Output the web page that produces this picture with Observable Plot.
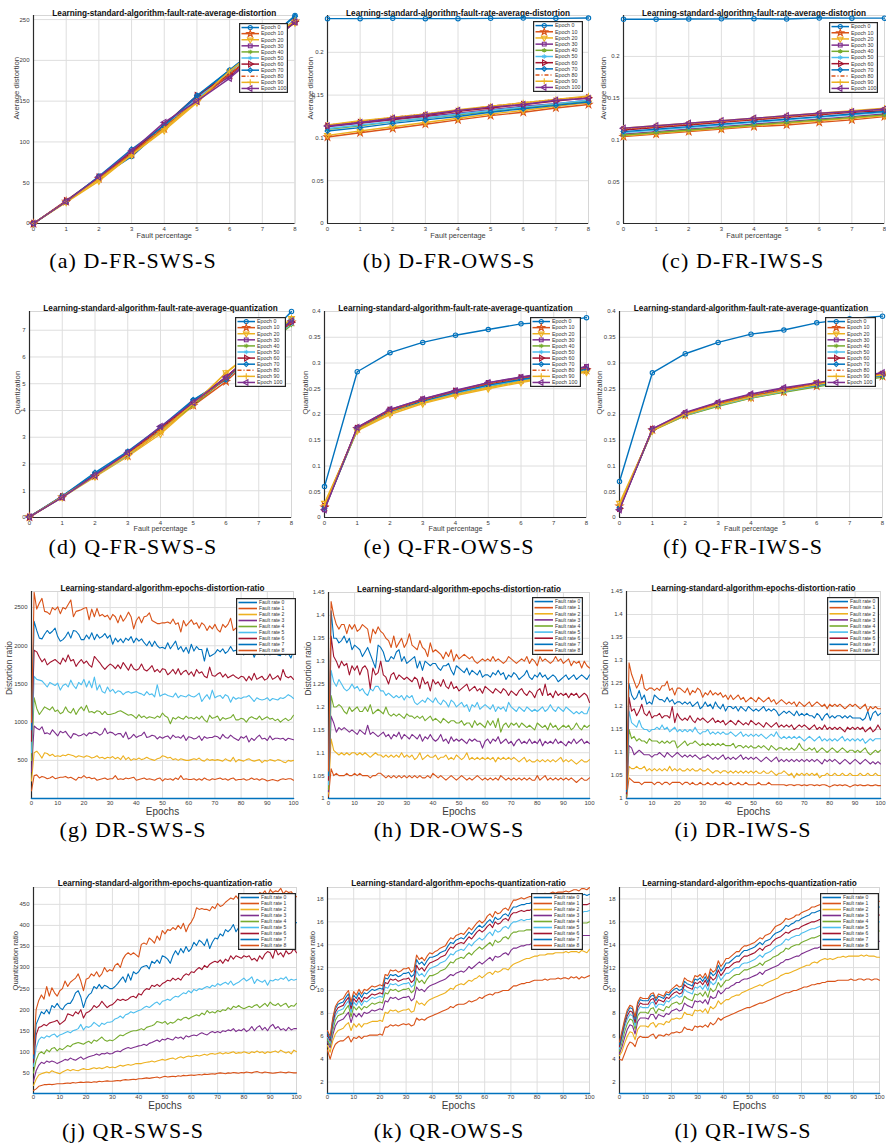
<!DOCTYPE html>
<html><head><meta charset="utf-8">
<script src="https://cdn.jsdelivr.net/npm/d3@7"></script>
<script src="https://cdn.jsdelivr.net/npm/@observablehq/plot@0.6"></script>
<style>
body{margin:0;background:#fff;}
#page{position:relative;width:886px;height:1147px;overflow:hidden;background:#fff;}
#page svg{position:absolute;display:block;}
.caption{position:absolute;width:300px;text-align:center;font-family:"Liberation Serif","Times New Roman",serif;font-size:22px;letter-spacing:1.1px;line-height:24px;color:#000;white-space:nowrap;}
</style></head><body><div id="page"></div>
<script>
// ---------- categories / labels ----------
const faultPercent = [0,1,2,3,4,5,6,7,8];
const epochs = [0,1,2,3,4,5,6,7,8,9,10,11,12,13,14,15,16,17,18,19,20,21,22,23,24,25,26,27,28,29,30,31,32,33,34,35,36,37,38,39,40,41,42,43,44,45,46,47,48,49,50,51,52,53,54,55,56,57,58,59,60,61,62,63,64,65,66,67,68,69,70,71,72,73,74,75,76,77,78,79,80,81,82,83,84,85,86,87,88,89,90,91,92,93,94,95,96,97,98,99,100];
const epochNames = ["Epoch 0","Epoch 10","Epoch 20","Epoch 30","Epoch 40","Epoch 50","Epoch 60","Epoch 70","Epoch 80","Epoch 90","Epoch 100"];
const faultNames = ["Fault rate 0","Fault rate 1","Fault rate 2","Fault rate 3","Fault rate 4","Fault rate 5","Fault rate 6","Fault rate 7","Fault rate 8"];
const xTicksFR = [0,1,2,3,4,5,6,7,8];
const xTicksEp = [0,10,20,30,40,50,60,70,80,90,100];

// ---------- (a) D-FR-SWS-S ----------
const dSWS_e0 = [0,27,56,82,118,155,188,220,255];
const dSWS_e10 = [0,27,55,85,116,150,182,215,248];
const dSWS_e20 = [0,26,52,84,114,148,186,218,246];
const dSWS_e30 = [0,27,57,88,121,155,180,214,247];
const dSWS_e40 = [0,27,56,86,119,152,186,218,247];
const dSWS_e50 = [0,27,57,87,120,153,186,219,250];
const dSWS_e60 = [0,28,57,87,121,157,183,215,248];
const dSWS_e70 = [0,27,58,91,120,157,188,220,254];
const dSWS_e80 = [0,27,55,86,118,151,183,216,249];
const dSWS_e90 = [0,27,54,84,116,150,187,219,249];
const dSWS_e100 = [0,27,57,89,124,150,178,212,247];
// ---------- (b) D-FR-OWS-S ----------
const dOWS_e0 = [0.2393,0.2393,0.2397,0.2393,0.2393,0.2397,0.2400,0.2397,0.2400];
const dOWS_e10 = [0.101,0.106,0.111,0.116,0.121,0.126,0.130,0.135,0.139];
const dOWS_e20 = [0.103,0.108,0.113,0.118,0.123,0.128,0.132,0.137,0.141];
const dOWS_e30 = [0.113,0.117,0.121,0.125,0.129,0.133,0.137,0.140,0.144];
const dOWS_e40 = [0.110,0.114,0.119,0.123,0.127,0.131,0.135,0.139,0.143];
const dOWS_e50 = [0.111,0.115,0.119,0.123,0.128,0.132,0.136,0.140,0.144];
const dOWS_e60 = [0.114,0.118,0.122,0.126,0.131,0.135,0.139,0.143,0.147];
const dOWS_e70 = [0.108,0.112,0.117,0.121,0.125,0.130,0.134,0.138,0.142];
const dOWS_e80 = [0.115,0.119,0.124,0.128,0.132,0.137,0.141,0.145,0.148];
const dOWS_e90 = [0.115,0.120,0.124,0.128,0.133,0.137,0.141,0.145,0.149];
const dOWS_e100 = [0.114,0.118,0.123,0.127,0.132,0.136,0.139,0.144,0.146];
// ---------- (c) D-FR-IWS-S ----------
const dIWS_e0 = [0.2445,0.2445,0.2448,0.2450,0.2452,0.2448,0.2460,0.2458,0.2458];
const dIWS_e10 = [0.104,0.107,0.110,0.113,0.116,0.118,0.121,0.124,0.128];
const dIWS_e20 = [0.105,0.108,0.111,0.114,0.117,0.120,0.123,0.126,0.129];
const dIWS_e30 = [0.107,0.110,0.113,0.116,0.119,0.122,0.125,0.128,0.131];
const dIWS_e40 = [0.106,0.109,0.112,0.115,0.118,0.121,0.124,0.127,0.130];
const dIWS_e50 = [0.109,0.112,0.115,0.118,0.121,0.124,0.127,0.130,0.133];
const dIWS_e60 = [0.112,0.115,0.118,0.121,0.124,0.127,0.130,0.133,0.135];
const dIWS_e70 = [0.110,0.113,0.116,0.119,0.122,0.125,0.128,0.131,0.134];
const dIWS_e80 = [0.113,0.116,0.119,0.122,0.125,0.128,0.131,0.134,0.137];
const dIWS_e90 = [0.114,0.117,0.120,0.123,0.126,0.129,0.132,0.135,0.138];
const dIWS_e100 = [0.114,0.117,0.120,0.123,0.126,0.129,0.132,0.134,0.137];
// ---------- (d) Q-FR-SWS-S ----------
const qSWS_e0 = [0.03,0.80,1.62,2.42,3.28,4.38,5.18,6.45,7.70];
const qSWS_e10 = [0.02,0.76,1.55,2.30,3.22,4.18,5.08,6.20,7.30];
const qSWS_e20 = [0.02,0.75,1.52,2.28,3.12,4.20,5.42,6.40,7.45];
const qSWS_e30 = [0.02,0.77,1.58,2.45,3.36,4.28,5.25,6.30,7.35];
const qSWS_e40 = [0.02,0.78,1.56,2.34,3.25,4.20,5.20,6.20,7.20];
const qSWS_e50 = [0.02,0.76,1.55,2.32,3.28,4.26,5.22,6.25,7.25];
const qSWS_e60 = [0.02,0.78,1.58,2.38,3.32,4.30,5.25,6.30,7.30];
const qSWS_e70 = [0.03,0.80,1.68,2.47,3.38,4.40,5.15,6.35,7.40];
const qSWS_e80 = [0.02,0.78,1.56,2.36,3.30,4.25,5.20,6.25,7.30];
const qSWS_e90 = [0.02,0.78,1.55,2.35,3.20,4.25,5.40,6.35,7.45];
const qSWS_e100 = [0.02,0.75,1.58,2.42,3.40,4.30,5.25,6.30,7.35];
// ---------- (e) Q-FR-OWS-S ----------
const qOWS_e0 = [0.060,0.283,0.320,0.340,0.354,0.365,0.376,0.380,0.388];
const qOWS_e10 = [0.020,0.172,0.205,0.226,0.242,0.256,0.268,0.278,0.286];
const qOWS_e20 = [0.028,0.168,0.200,0.221,0.237,0.250,0.262,0.273,0.282];
const qOWS_e30 = [0.015,0.175,0.210,0.230,0.247,0.262,0.273,0.283,0.293];
const qOWS_e40 = [0.018,0.170,0.204,0.224,0.240,0.254,0.266,0.276,0.285];
const qOWS_e50 = [0.020,0.171,0.205,0.225,0.241,0.255,0.267,0.277,0.286];
const qOWS_e60 = [0.022,0.173,0.208,0.228,0.245,0.259,0.271,0.280,0.289];
const qOWS_e70 = [0.018,0.172,0.206,0.226,0.243,0.257,0.268,0.278,0.288];
const qOWS_e80 = [0.020,0.173,0.207,0.228,0.245,0.260,0.271,0.281,0.290];
const qOWS_e90 = [0.025,0.170,0.203,0.223,0.239,0.252,0.264,0.274,0.284];
const qOWS_e100 = [0.015,0.175,0.210,0.230,0.246,0.262,0.272,0.282,0.292];
// ---------- (f) Q-FR-IWS-S ----------
const qIWS_e0 = [0.070,0.281,0.318,0.340,0.356,0.364,0.378,0.386,0.391];
const qIWS_e10 = [0.022,0.170,0.199,0.218,0.233,0.244,0.255,0.265,0.274];
const qIWS_e20 = [0.028,0.168,0.198,0.217,0.232,0.244,0.262,0.270,0.279];
const qIWS_e30 = [0.016,0.172,0.203,0.223,0.239,0.251,0.260,0.270,0.279];
const qIWS_e40 = [0.020,0.169,0.198,0.216,0.232,0.243,0.254,0.264,0.272];
const qIWS_e50 = [0.020,0.170,0.199,0.218,0.233,0.245,0.256,0.266,0.275];
const qIWS_e60 = [0.018,0.171,0.201,0.221,0.236,0.248,0.259,0.269,0.278];
const qIWS_e70 = [0.019,0.170,0.200,0.220,0.235,0.247,0.257,0.267,0.276];
const qIWS_e80 = [0.020,0.171,0.202,0.221,0.237,0.249,0.260,0.270,0.279];
const qIWS_e90 = [0.024,0.169,0.200,0.219,0.234,0.246,0.258,0.268,0.277];
const qIWS_e100 = [0.015,0.172,0.204,0.224,0.240,0.252,0.262,0.272,0.281];

// ---------- fault rate 0 (ratio 1 in every epoch chart) ----------
const faultRate0 = [1,1,1,1,1,1,1,1,1,1,1,1,1,1,1,1,1,1,1,1,1,1,1,1,1,1,1,1,1,1,1,1,1,1,1,1,1,1,1,1,1,1,1,1,1,1,1,1,1,1,1,1,1,1,1,1,1,1,1,1,1,1,1,1,1,1,1,1,1,1,1,1,1,1,1,1,1,1,1,1,1,1,1,1,1,1,1,1,1,1,1,1,1,1,1,1,1,1,1,1,1];

// ---------- (g) DR-SWS-S ----------
const drSWS_f1 = [100,300,310,270,290,280,260,270,290,260,270,280,280,290,270,280,260,240,280,270,300,270,280,260,270,240,250,260,270,250,260,260,300,250,260,250,270,260,270,280,240,250,260,270,250,260,250,240,260,270,230,260,250,260,240,270,250,300,250,260,250,250,260,240,260,240,270,250,240,260,250,260,270,250,260,240,260,270,240,250,250,260,240,250,270,250,260,240,260,250,230,240,250,240,230,250,260,250,260,260,240];
const drSWS_f2 = [230,600,620,580,530,600,590,560,580,550,560,550,570,560,580,570,560,540,560,550,540,560,550,530,540,560,530,540,520,540,530,550,520,540,510,560,510,540,500,520,510,530,510,520,540,520,510,500,520,530,560,550,530,540,510,520,500,520,510,500,500,510,520,510,530,500,490,520,500,510,500,510,500,490,520,500,490,540,480,510,500,490,510,520,500,490,500,510,470,500,490,510,500,490,510,500,480,470,500,490,500];
const drSWS_f3 = [350,950,920,900,940,850,860,840,900,860,820,880,860,880,830,790,850,840,820,830,850,820,860,850,870,860,830,850,920,850,870,860,830,850,850,800,870,780,800,840,800,820,830,870,800,810,830,820,780,810,790,810,820,780,830,800,810,790,830,760,810,800,780,790,820,760,810,790,800,800,820,810,780,840,800,790,830,800,780,760,810,790,820,740,790,760,800,830,780,790,760,820,770,790,790,780,790,760,790,780,770];
const drSWS_f4 = [500,1320,1180,1100,1150,1200,1180,1160,1200,1140,1160,1110,1130,1200,1140,1120,1180,1100,1160,1200,1150,1220,1130,1140,1120,1150,1140,1100,1140,1100,1100,1110,1120,1140,1150,1130,1110,1090,1100,1080,1050,1100,1060,1080,1050,1070,1060,1050,1080,1060,1120,1080,1060,980,1060,1040,1070,1050,1040,1080,1050,1060,1040,1070,1040,1080,1030,1000,1090,1050,1060,1080,1020,1060,1040,1050,1060,1100,1030,1030,1050,1040,1000,1050,1070,1050,1040,1080,1030,1050,1070,1040,1050,1020,1040,1000,1030,1050,1020,1040,1090];
const drSWS_f5 = [600,1600,1560,1550,1540,1500,1460,1520,1500,1480,1510,1420,1480,1500,1460,1550,1480,1440,1520,1490,1560,1460,1540,1450,1590,1420,1490,1400,1380,1460,1400,1430,1380,1410,1400,1360,1390,1400,1380,1390,1400,1380,1370,1350,1400,1360,1370,1330,1490,1340,1360,1370,1350,1340,1330,1380,1320,1350,1340,1330,1360,1340,1330,1350,1380,1270,1320,1360,1300,1420,1320,1340,1350,1310,1360,1340,1260,1330,1300,1320,1310,1330,1330,1350,1310,1270,1320,1300,1290,1300,1320,1280,1310,1300,1290,1320,1310,1330,1360,1340,1310];
const drSWS_f6 = [750,1940,1920,1850,1790,1830,1750,1780,1800,1820,1790,1760,1840,1790,1880,1800,1820,1730,1780,1820,1770,1800,1750,1720,1860,1820,1780,1730,1690,1730,1760,1740,1700,1750,1700,1780,1730,1680,1760,1700,1680,1700,1760,1690,1670,1700,1740,1660,1690,1650,1700,1690,1620,1650,1690,1630,1700,1620,1660,1680,1620,1660,1600,1690,1640,1660,1600,1580,1720,1610,1600,1630,1650,1590,1630,1580,1600,1620,1590,1570,1600,1590,1540,1600,1550,1640,1560,1580,1600,1550,1570,1630,1560,1580,1610,1550,1690,1600,1580,1600,1560];
const drSWS_f7 = [900,2320,2200,2100,2090,2150,2200,2160,2190,2230,2120,2060,2080,2120,2180,2100,2200,2190,2150,2080,2080,2140,2090,2170,2080,2150,2100,2120,2160,2100,2140,2020,2100,2050,2090,2040,2100,2070,2120,2040,2100,2060,2090,2040,2000,2060,1990,2060,2000,1970,1980,1960,2040,1960,2010,2060,1950,1990,1920,1980,1900,2020,1930,1990,1950,1950,1800,1970,1860,1880,1900,1950,1920,1960,1900,1930,1990,1930,1940,1900,1960,1880,1950,1900,1940,1850,1930,1910,1900,1880,1930,1880,1920,1910,1880,1870,1940,1880,1900,1840,1930];
const drSWS_f8 = [1000,2700,2480,2560,2620,2450,2440,2410,2500,2470,2510,2420,2500,2480,2540,2600,2380,2450,2460,2470,2490,2500,2340,2480,2380,2490,2390,2410,2380,2400,2340,2410,2380,2300,2400,2320,2370,2440,2380,2220,2330,2380,2300,2380,2390,2430,2330,2310,2290,2290,2300,2300,2310,2290,2350,2280,2300,2180,2330,2260,2300,2340,2280,2300,2230,2300,2270,2200,2260,2220,2280,2210,2180,2280,2240,2280,2360,2200,2230,2180,2270,2180,2250,2190,2180,2230,2200,2170,2280,2190,2190,2200,2210,2200,2260,2200,2210,2180,2200,2170,2160];

// ---------- (h) DR-OWS-S ----------
const drOWS_f1 = [1.005,1.065,1.05,1.055,1.05,1.05,1.05,1.055,1.05,1.05,1.055,1.05,1.055,1.05,1.05,1.05,1.045,1.05,1.05,1.055,1.055,1.05,1.045,1.05,1.045,1.05,1.045,1.05,1.045,1.05,1.045,1.05,1.045,1.05,1.045,1.05,1.045,1.045,1.05,1.045,1.055,1.05,1.045,1.05,1.045,1.04,1.045,1.05,1.045,1.04,1.045,1.05,1.045,1.04,1.045,1.04,1.045,1.05,1.045,1.04,1.045,1.04,1.045,1.04,1.045,1.04,1.05,1.045,1.04,1.045,1.04,1.045,1.04,1.045,1.04,1.045,1.04,1.045,1.04,1.04,1.05,1.04,1.045,1.05,1.04,1.045,1.04,1.045,1.04,1.045,1.04,1.045,1.04,1.045,1.04,1.035,1.04,1.045,1.04,1.04,1.045];
const drOWS_f2 = [1.01,1.13,1.105,1.10,1.095,1.10,1.095,1.10,1.095,1.1,1.1,1.095,1.1,1.095,1.1,1.095,1.09,1.095,1.1,1.095,1.095,1.09,1.095,1.09,1.095,1.09,1.095,1.09,1.1,1.09,1.095,1.09,1.095,1.085,1.09,1.1,1.085,1.09,1.095,1.09,1.09,1.095,1.085,1.09,1.09,1.095,1.085,1.09,1.085,1.095,1.09,1.085,1.09,1.1,1.085,1.09,1.085,1.09,1.085,1.09,1.085,1.09,1.085,1.09,1.08,1.09,1.085,1.09,1.085,1.09,1.085,1.09,1.085,1.08,1.085,1.09,1.08,1.085,1.08,1.08,1.085,1.08,1.085,1.08,1.085,1.08,1.085,1.08,1.085,1.09,1.08,1.085,1.08,1.085,1.08,1.075,1.08,1.085,1.08,1.08,1.085];
const drOWS_f3 = [1.015,1.18,1.165,1.145,1.155,1.15,1.155,1.15,1.145,1.15,1.145,1.14,1.15,1.145,1.14,1.16,1.14,1.145,1.14,1.135,1.14,1.145,1.135,1.14,1.13,1.14,1.135,1.145,1.13,1.14,1.135,1.13,1.14,1.135,1.13,1.14,1.125,1.135,1.13,1.14,1.13,1.125,1.13,1.14,1.125,1.13,1.12,1.135,1.125,1.13,1.125,1.13,1.125,1.12,1.13,1.125,1.13,1.125,1.125,1.11,1.125,1.13,1.12,1.13,1.125,1.135,1.12,1.125,1.13,1.12,1.125,1.115,1.125,1.13,1.12,1.125,1.12,1.13,1.12,1.125,1.12,1.13,1.115,1.125,1.12,1.125,1.12,1.13,1.12,1.125,1.12,1.115,1.125,1.12,1.13,1.12,1.125,1.13,1.12,1.125,1.12];
const drOWS_f4 = [1.02,1.225,1.20,1.20,1.205,1.20,1.19,1.185,1.20,1.19,1.195,1.20,1.19,1.19,1.20,1.19,1.205,1.185,1.19,1.195,1.19,1.185,1.2,1.185,1.18,1.185,1.18,1.185,1.18,1.175,1.185,1.18,1.18,1.175,1.18,1.175,1.18,1.17,1.175,1.18,1.17,1.175,1.17,1.165,1.175,1.17,1.165,1.17,1.17,1.165,1.165,1.17,1.16,1.165,1.165,1.155,1.17,1.16,1.165,1.16,1.155,1.17,1.16,1.17,1.155,1.175,1.145,1.16,1.165,1.155,1.165,1.16,1.165,1.155,1.165,1.16,1.155,1.16,1.155,1.15,1.165,1.16,1.155,1.16,1.15,1.165,1.155,1.16,1.15,1.155,1.16,1.155,1.16,1.15,1.155,1.165,1.155,1.15,1.16,1.155,1.16];
const drOWS_f5 = [1.03,1.28,1.255,1.245,1.26,1.25,1.24,1.235,1.24,1.25,1.24,1.245,1.235,1.24,1.23,1.225,1.24,1.235,1.245,1.245,1.235,1.235,1.225,1.23,1.225,1.22,1.225,1.22,1.225,1.215,1.225,1.22,1.225,1.21,1.205,1.21,1.215,1.21,1.22,1.215,1.21,1.22,1.21,1.205,1.215,1.21,1.2,1.215,1.21,1.2,1.205,1.21,1.2,1.205,1.19,1.205,1.2,1.21,1.195,1.2,1.205,1.2,1.195,1.205,1.19,1.2,1.195,1.2,1.19,1.21,1.2,1.195,1.19,1.2,1.195,1.19,1.2,1.195,1.19,1.195,1.19,1.195,1.2,1.19,1.195,1.205,1.195,1.19,1.2,1.195,1.19,1.2,1.195,1.19,1.185,1.19,1.185,1.19,1.185,1.185,1.2];
const drOWS_f6 = [1.04,1.355,1.31,1.30,1.285,1.30,1.29,1.295,1.27,1.29,1.28,1.29,1.27,1.285,1.29,1.28,1.24,1.285,1.27,1.275,1.30,1.27,1.265,1.25,1.27,1.275,1.26,1.27,1.265,1.26,1.265,1.26,1.255,1.265,1.26,1.24,1.265,1.25,1.255,1.235,1.26,1.25,1.255,1.245,1.26,1.245,1.24,1.255,1.24,1.245,1.235,1.24,1.245,1.25,1.235,1.24,1.245,1.235,1.24,1.23,1.245,1.24,1.235,1.23,1.24,1.235,1.23,1.24,1.235,1.225,1.235,1.23,1.225,1.235,1.24,1.23,1.225,1.235,1.23,1.22,1.235,1.24,1.225,1.25,1.225,1.23,1.22,1.235,1.225,1.23,1.225,1.23,1.22,1.23,1.225,1.23,1.22,1.225,1.23,1.225,1.21];
const drOWS_f7 = [1.05,1.41,1.35,1.35,1.34,1.345,1.355,1.34,1.35,1.325,1.335,1.33,1.325,1.31,1.32,1.33,1.315,1.30,1.285,1.335,1.33,1.32,1.30,1.30,1.31,1.305,1.32,1.325,1.30,1.31,1.295,1.30,1.305,1.31,1.285,1.30,1.28,1.30,1.295,1.29,1.295,1.295,1.285,1.28,1.29,1.29,1.295,1.28,1.27,1.29,1.285,1.28,1.275,1.285,1.27,1.28,1.275,1.27,1.28,1.265,1.27,1.27,1.265,1.275,1.27,1.28,1.27,1.275,1.26,1.27,1.265,1.275,1.27,1.26,1.265,1.27,1.28,1.265,1.26,1.27,1.265,1.275,1.265,1.27,1.26,1.265,1.27,1.265,1.255,1.26,1.265,1.27,1.26,1.265,1.27,1.26,1.265,1.27,1.265,1.26,1.27];
const drOWS_f8 = [1.06,1.43,1.40,1.38,1.37,1.38,1.38,1.36,1.38,1.37,1.38,1.365,1.37,1.38,1.375,1.37,1.34,1.37,1.36,1.375,1.365,1.36,1.35,1.345,1.33,1.355,1.33,1.34,1.35,1.33,1.34,1.36,1.335,1.33,1.325,1.345,1.33,1.325,1.31,1.34,1.32,1.325,1.32,1.315,1.305,1.32,1.31,1.325,1.30,1.315,1.305,1.31,1.315,1.31,1.305,1.31,1.30,1.295,1.30,1.305,1.30,1.305,1.30,1.31,1.30,1.305,1.30,1.295,1.30,1.31,1.305,1.30,1.295,1.30,1.305,1.30,1.31,1.295,1.305,1.30,1.29,1.31,1.30,1.305,1.30,1.295,1.30,1.31,1.30,1.305,1.295,1.30,1.305,1.29,1.30,1.295,1.30,1.285,1.30,1.29,1.285];

// ---------- (i) DR-IWS-S ----------
const drIWS_f1 = [1.001,1.045,1.04,1.035,1.035,1.035,1.03,1.035,1.035,1.035,1.035,1.03,1.035,1.035,1.03,1.035,1.035,1.03,1.035,1.035,1.035,1.035,1.03,1.035,1.035,1.03,1.035,1.03,1.03,1.035,1.03,1.03,1.035,1.03,1.03,1.035,1.03,1.03,1.035,1.03,1.03,1.035,1.03,1.03,1.035,1.03,1.03,1.035,1.03,1.03,1.03,1.03,1.035,1.03,1.03,1.03,1.035,1.03,1.03,1.03,1.03,1.03,1.03,1.028,1.03,1.03,1.028,1.03,1.03,1.028,1.03,1.028,1.03,1.03,1.028,1.03,1.028,1.03,1.03,1.028,1.025,1.028,1.03,1.028,1.03,1.028,1.03,1.028,1.025,1.028,1.03,1.028,1.03,1.028,1.028,1.03,1.028,1.028,1.03,1.028,1.028];
const drIWS_f2 = [1.002,1.07,1.065,1.065,1.07,1.065,1.065,1.07,1.06,1.065,1.06,1.065,1.06,1.065,1.06,1.065,1.06,1.07,1.06,1.065,1.06,1.065,1.06,1.06,1.065,1.06,1.065,1.06,1.06,1.065,1.06,1.06,1.065,1.06,1.055,1.06,1.06,1.055,1.06,1.06,1.055,1.06,1.055,1.06,1.055,1.06,1.055,1.06,1.055,1.06,1.055,1.06,1.055,1.055,1.06,1.055,1.055,1.06,1.055,1.05,1.055,1.055,1.06,1.055,1.05,1.055,1.045,1.055,1.05,1.055,1.05,1.055,1.05,1.055,1.05,1.055,1.045,1.05,1.05,1.055,1.05,1.05,1.055,1.05,1.05,1.055,1.05,1.05,1.055,1.05,1.05,1.05,1.055,1.05,1.05,1.055,1.05,1.05,1.055,1.05,1.05];
const drIWS_f3 = [1.003,1.115,1.11,1.095,1.1,1.105,1.1,1.095,1.095,1.095,1.09,1.095,1.095,1.1,1.095,1.09,1.1,1.095,1.09,1.095,1.1,1.095,1.09,1.095,1.09,1.095,1.09,1.095,1.09,1.085,1.09,1.09,1.095,1.09,1.085,1.09,1.085,1.09,1.095,1.085,1.09,1.085,1.09,1.085,1.09,1.095,1.085,1.09,1.085,1.09,1.085,1.09,1.085,1.08,1.085,1.09,1.085,1.08,1.085,1.09,1.08,1.085,1.08,1.085,1.08,1.085,1.08,1.085,1.08,1.085,1.08,1.085,1.08,1.085,1.08,1.085,1.08,1.075,1.085,1.08,1.085,1.08,1.085,1.08,1.075,1.08,1.085,1.08,1.075,1.08,1.085,1.08,1.075,1.08,1.085,1.08,1.075,1.08,1.075,1.08,1.075];
const drIWS_f4 = [1.005,1.15,1.13,1.135,1.125,1.13,1.125,1.125,1.12,1.13,1.125,1.125,1.125,1.12,1.125,1.12,1.125,1.12,1.125,1.125,1.11,1.115,1.12,1.125,1.115,1.12,1.12,1.125,1.12,1.115,1.12,1.115,1.12,1.115,1.12,1.115,1.12,1.115,1.12,1.115,1.115,1.115,1.12,1.11,1.115,1.115,1.11,1.115,1.11,1.115,1.11,1.11,1.115,1.11,1.115,1.11,1.105,1.115,1.11,1.105,1.11,1.11,1.105,1.11,1.105,1.11,1.105,1.11,1.12,1.11,1.105,1.105,1.11,1.105,1.11,1.1,1.105,1.11,1.105,1.1,1.105,1.11,1.105,1.1,1.105,1.11,1.105,1.1,1.105,1.105,1.1,1.105,1.1,1.105,1.11,1.1,1.095,1.1,1.105,1.1,1.105];
const drIWS_f5 = [1.01,1.19,1.165,1.16,1.155,1.17,1.155,1.15,1.15,1.145,1.15,1.15,1.155,1.15,1.16,1.15,1.155,1.145,1.15,1.155,1.145,1.15,1.145,1.15,1.145,1.15,1.145,1.155,1.145,1.14,1.145,1.145,1.15,1.14,1.145,1.14,1.145,1.14,1.145,1.14,1.14,1.145,1.14,1.135,1.14,1.145,1.135,1.14,1.135,1.14,1.135,1.14,1.135,1.14,1.135,1.13,1.135,1.14,1.135,1.145,1.135,1.13,1.135,1.13,1.135,1.13,1.135,1.13,1.135,1.13,1.125,1.13,1.135,1.13,1.125,1.13,1.135,1.125,1.13,1.125,1.13,1.125,1.13,1.125,1.13,1.135,1.125,1.13,1.125,1.13,1.125,1.13,1.125,1.13,1.12,1.125,1.13,1.125,1.13,1.13,1.13];
const drIWS_f6 = [1.01,1.22,1.19,1.195,1.18,1.19,1.205,1.185,1.18,1.19,1.175,1.18,1.18,1.185,1.175,1.18,1.18,1.175,1.2,1.165,1.185,1.175,1.17,1.175,1.17,1.18,1.17,1.165,1.175,1.17,1.175,1.17,1.165,1.17,1.175,1.165,1.17,1.165,1.17,1.16,1.165,1.17,1.165,1.16,1.17,1.165,1.16,1.165,1.16,1.17,1.165,1.16,1.165,1.16,1.155,1.165,1.16,1.155,1.16,1.165,1.155,1.16,1.155,1.16,1.155,1.16,1.15,1.155,1.16,1.155,1.16,1.155,1.15,1.155,1.16,1.15,1.155,1.15,1.16,1.15,1.155,1.15,1.155,1.15,1.155,1.15,1.145,1.155,1.15,1.155,1.15,1.155,1.15,1.155,1.145,1.15,1.155,1.145,1.15,1.16,1.15];
const drIWS_f7 = [1.015,1.25,1.225,1.215,1.22,1.235,1.215,1.225,1.205,1.21,1.205,1.225,1.22,1.215,1.215,1.21,1.22,1.21,1.215,1.205,1.21,1.21,1.205,1.21,1.205,1.21,1.2,1.205,1.21,1.195,1.2,1.21,1.2,1.205,1.195,1.21,1.2,1.195,1.205,1.19,1.2,1.2,1.195,1.2,1.19,1.2,1.195,1.19,1.2,1.195,1.19,1.195,1.19,1.195,1.2,1.19,1.195,1.19,1.195,1.19,1.18,1.185,1.19,1.185,1.19,1.185,1.18,1.19,1.18,1.185,1.18,1.185,1.18,1.18,1.175,1.185,1.18,1.17,1.18,1.185,1.175,1.18,1.175,1.18,1.18,1.175,1.18,1.175,1.18,1.175,1.175,1.175,1.175,1.17,1.175,1.19,1.17,1.185,1.19,1.18,1.185];
const drIWS_f8 = [1.02,1.295,1.27,1.255,1.24,1.25,1.27,1.24,1.235,1.24,1.24,1.235,1.24,1.235,1.245,1.245,1.255,1.235,1.24,1.225,1.24,1.24,1.235,1.23,1.24,1.225,1.235,1.23,1.24,1.235,1.22,1.23,1.225,1.235,1.225,1.23,1.225,1.23,1.22,1.225,1.215,1.225,1.215,1.22,1.225,1.215,1.22,1.21,1.215,1.22,1.215,1.21,1.22,1.215,1.21,1.215,1.22,1.21,1.215,1.205,1.21,1.215,1.21,1.205,1.21,1.205,1.21,1.2,1.21,1.205,1.2,1.205,1.21,1.2,1.205,1.21,1.205,1.2,1.205,1.195,1.205,1.2,1.205,1.2,1.205,1.2,1.195,1.2,1.205,1.2,1.205,1.2,1.195,1.2,1.205,1.19,1.2,1.195,1.2,1.195,1.195];

// ---------- (j) QR-SWS-S ----------
const qrSWS_f1 = [8,12,18,20,22,22,23,22,23,24,24,24,25,26,25,27,26,27,28,27,28,28,27,29,28,30,29,30,31,30,30,31,32,31,33,34,33,34,35,34,36,36,37,38,37,38,39,40,38,40,42,40,41,42,41,43,42,44,43,44,45,44,45,46,45,47,46,47,48,47,49,50,49,48,50,49,51,50,49,51,50,52,51,50,52,53,51,50,52,51,50,49,50,51,52,51,50,52,51,50,50];
const qrSWS_f2 = [20,35,45,48,50,52,50,55,52,50,48,52,55,58,55,58,56,55,58,60,58,58,60,62,60,62,60,62,65,62,64,62,65,68,66,68,70,68,70,72,72,72,74,75,76,78,76,78,80,82,80,82,84,85,82,86,88,85,88,90,88,90,92,90,92,94,92,95,96,94,96,98,95,98,96,98,100,96,98,97,100,98,96,100,98,102,98,100,96,100,98,100,102,98,104,100,97,100,95,104,100];
const qrSWS_f3 = [30,55,68,75,72,78,75,78,76,72,75,78,82,80,85,82,80,84,88,82,85,88,90,92,95,92,96,95,98,95,96,100,102,100,105,108,110,108,110,112,114,115,118,115,120,122,125,128,124,130,128,132,130,128,135,132,135,130,138,135,138,140,138,142,145,142,140,145,148,145,148,145,150,148,152,150,155,148,152,150,155,148,152,160,150,158,162,152,158,150,160,165,155,160,152,155,150,158,152,155,155];
const qrSWS_f4 = [50,80,95,100,95,105,100,108,110,102,108,105,110,115,112,118,120,122,120,118,122,125,120,128,125,130,135,128,125,128,126,130,135,140,138,142,145,148,150,150,152,155,152,158,160,162,165,172,170,168,172,165,170,168,172,178,175,180,182,178,182,185,188,185,192,188,198,192,195,192,198,195,200,198,205,200,208,205,210,205,202,205,208,205,210,212,205,210,215,208,218,212,210,215,208,212,215,205,210,208,215];
const qrSWS_f5 = [65,110,128,135,132,138,135,140,142,135,140,142,145,148,145,150,152,155,165,152,160,158,162,170,165,160,168,165,170,170,172,178,180,185,180,188,190,195,192,195,198,200,205,208,205,210,215,218,212,220,222,225,222,228,232,230,235,240,238,245,240,248,245,250,248,252,255,252,258,255,262,258,262,265,260,268,258,262,265,270,275,268,272,278,262,272,268,265,270,258,270,268,272,270,275,272,278,268,272,270,272];
const qrSWS_f6 = [75,140,158,160,165,162,168,170,172,175,165,170,175,190,188,185,195,190,200,180,192,195,200,210,205,210,220,212,205,210,212,218,225,222,225,222,225,230,232,228,238,235,245,250,248,258,255,260,255,262,265,270,268,275,270,275,270,280,285,282,290,288,295,300,295,305,300,308,312,315,312,318,310,320,315,328,320,328,325,322,328,325,328,318,322,315,328,320,332,338,335,322,345,330,335,325,340,332,335,345,335];
const qrSWS_f7 = [85,165,180,195,190,200,190,210,205,215,205,200,210,215,215,225,240,245,230,205,225,235,240,255,250,260,250,258,255,250,250,255,262,270,278,265,285,270,290,285,290,300,303,305,297,315,310,318,310,328,325,320,310,328,340,330,345,335,350,338,345,360,352,365,360,352,368,345,360,370,368,380,375,390,385,392,402,385,395,392,380,388,392,385,395,390,385,398,392,388,395,390,398,392,395,400,398,395,402,400,407];
const qrSWS_f8 = [95,200,222,235,225,255,232,252,240,232,245,250,268,255,265,270,275,285,268,245,272,275,285,280,290,278,285,300,290,295,292,305,310,300,320,330,335,330,335,330,325,355,358,355,370,365,358,375,365,388,380,390,388,395,390,400,392,405,385,400,408,420,442,438,440,438,438,435,445,440,452,445,448,455,460,465,462,470,462,470,468,470,472,468,475,470,478,475,482,470,485,478,482,480,488,475,482,478,480,472,468];

// ---------- (k) QR-OWS-S ----------
const qrOWS_f1 = [4.8,4.0,4.8,5.3,5.5,5.6,5.6,5.8,6.0,5.5,5.9,5.8,6.0,5.8,6.0,6.0,6.1,6.1,6.1,6.1,6.2,6.1,6.8,6.8,7.0,6.9,7.0,6.9,7.0,7.1,7.0,7.1,6.9,7.0,7.6,7.4,7.5,7.4,7.6,7.7,7.8,7.9,8.0,8.1,8.2,8.3,8.4,8.6,8.5,8.7,8.8,8.8,8.8,8.9,9.1,9.0,9.1,9.2,9.4,9.3,9.5,9.6,9.7,9.6,9.8,9.8,9.9,10.0,10.0,10.0,10.2,10.4,10.4,10.5,10.6,10.6,10.7,10.7,10.8,10.9,10.9,10.9,10.9,11.0,10.9,11.0,11.0,11.0,11.1,11.0,11.1,11.1,11.0,11.2,11.1,11.2,11.0,11.2,11.1,11.2,11.3];
const qrOWS_f2 = [5.2,4.6,5.6,6.2,6.5,6.6,6.7,7.0,7.2,6.5,7.1,6.8,7.1,6.8,7.1,7.1,7.2,7.3,7.3,7.3,7.4,7.3,8.1,8.0,8.3,8.2,8.3,8.1,8.2,8.3,8.3,8.4,8.1,8.2,9.1,8.8,8.9,8.7,9.0,9.2,9.3,9.4,9.5,9.6,9.7,9.8,10.0,10.2,10.1,10.4,10.5,10.6,10.5,10.7,10.9,10.8,11.0,11.1,11.3,11.1,11.3,11.5,11.6,11.4,11.7,11.6,11.7,11.9,11.9,11.8,12.1,12.3,12.4,12.5,12.6,12.7,12.8,12.8,12.9,13.0,13.0,13.1,13.1,13.1,13.2,13.2,13.2,13.3,13.3,13.3,13.3,13.4,13.3,13.4,13.4,13.4,13.3,13.5,13.4,13.3,13.6];
const qrOWS_f3 = [5.5,5.0,6.1,6.9,7.3,7.4,7.5,7.8,8.1,7.2,8.0,7.7,8.0,7.7,8.1,8.0,8.1,8.3,8.2,8.3,8.4,8.3,9.1,9.0,9.4,9.3,9.4,9.2,9.3,9.4,9.4,9.5,9.1,9.3,10.3,10.0,10.1,9.9,10.2,10.4,10.5,10.6,10.7,10.8,10.9,11.0,11.2,11.4,11.3,11.5,11.6,11.7,11.6,11.8,12.1,11.9,12.1,12.3,12.5,12.3,12.5,12.7,12.9,12.6,13.0,12.9,13.0,13.2,13.3,13.1,13.5,13.7,13.7,13.8,13.9,13.9,14.0,14.0,14.1,14.1,14.2,14.2,14.3,14.3,14.3,14.4,14.4,14.5,14.5,14.5,14.6,14.6,14.6,14.7,14.7,14.7,14.7,14.8,14.8,14.8,14.8];
const qrOWS_f4 = [5.7,5.2,6.5,7.4,7.8,7.9,8.0,8.4,8.7,7.7,8.6,8.3,8.6,8.3,8.6,8.5,8.7,8.9,8.8,8.9,9.0,8.9,9.8,9.7,10.1,10.0,10.1,9.9,10.0,10.1,10.1,10.2,9.8,10.0,11.1,10.7,10.9,10.6,11.0,11.3,11.3,11.4,11.5,11.7,11.8,11.9,12.2,12.5,12.4,12.7,12.8,12.9,12.8,13.1,13.3,13.1,13.4,13.6,13.8,13.6,13.8,14.0,14.2,13.9,14.4,14.2,14.3,14.6,14.7,14.5,14.9,15.1,15.1,15.2,15.2,15.2,15.3,15.3,15.3,15.3,15.4,15.4,15.4,15.5,15.5,15.5,15.6,15.6,15.6,15.6,15.6,15.7,15.7,15.7,15.8,15.8,15.8,15.9,15.9,15.9,16.0];
const qrOWS_f5 = [5.9,5.4,6.8,7.8,8.2,8.3,8.4,8.8,9.1,8.1,9.0,8.7,9.1,8.7,9.1,9.0,9.2,9.4,9.3,9.4,9.5,9.4,10.3,10.2,10.6,10.5,10.6,10.4,10.5,10.6,10.6,10.7,10.3,10.5,11.7,11.3,11.5,11.2,11.6,11.9,12.0,12.1,12.2,12.4,12.5,12.6,12.9,13.2,13.1,13.4,13.5,13.6,13.5,13.8,14.1,13.9,14.2,14.4,14.6,14.4,14.6,14.9,15.1,14.8,15.3,15.1,15.2,15.5,15.6,15.4,15.8,16.0,16.0,16.1,16.2,16.1,16.2,16.2,16.3,16.3,16.3,16.4,16.4,16.4,16.5,16.5,16.5,16.6,16.6,16.6,16.6,16.6,16.7,16.7,16.7,16.8,16.8,16.8,16.9,16.9,17.0];
const qrOWS_f6 = [6.1,5.6,7.1,8.1,8.5,8.6,8.7,9.1,9.4,8.4,9.3,9.0,9.4,9.0,9.4,9.3,9.5,9.7,9.6,9.7,9.8,9.7,10.7,10.6,11.0,10.9,11.0,10.8,10.9,11.0,11.0,11.1,10.7,10.9,12.2,11.8,12.0,11.7,12.1,12.4,12.5,12.6,12.7,12.9,13.0,13.1,13.5,13.8,13.7,14.0,14.1,14.2,14.1,14.4,14.7,14.5,14.8,15.1,15.3,15.1,15.3,15.6,15.8,15.5,16.0,15.8,15.9,16.2,16.3,16.1,16.6,16.8,16.8,16.9,17.0,16.9,17.0,17.0,17.1,17.1,17.1,17.1,17.2,17.2,17.2,17.3,17.3,17.3,17.3,17.3,17.3,17.4,17.4,17.4,17.4,17.5,17.5,17.5,17.5,17.5,17.6];
const qrOWS_f7 = [6.3,5.8,7.4,8.4,8.8,8.9,9.0,9.4,9.7,8.7,9.6,9.3,9.8,9.4,9.8,9.7,9.9,10.1,10.0,10.1,10.2,10.1,11.1,11.0,11.4,11.3,11.4,11.2,11.3,11.5,11.5,11.6,11.2,11.4,12.7,12.3,12.5,12.2,12.6,12.9,12.9,13.0,13.1,13.3,13.4,13.5,13.9,14.2,14.1,14.4,14.5,14.6,14.5,14.8,15.1,14.9,15.2,15.5,15.7,15.5,15.7,16.0,16.2,15.9,16.4,16.2,16.3,16.6,16.7,16.5,17.0,17.3,17.3,17.4,17.5,17.5,17.6,17.6,17.7,17.7,17.8,17.8,17.8,17.9,17.9,18.0,18.0,18.0,18.1,18.1,18.1,18.1,18.2,18.2,18.2,18.3,18.3,18.3,18.4,18.3,18.4];
const qrOWS_f8 = [6.5,6.0,7.6,8.6,9.0,9.2,9.3,9.7,10.0,9.0,9.9,9.6,10.1,9.7,10.1,10.0,10.2,10.4,10.3,10.4,10.5,10.4,11.4,11.3,11.8,11.7,11.8,11.6,11.7,11.9,11.9,12.0,11.6,11.8,13.1,12.7,12.9,12.6,13.0,13.3,13.2,13.4,13.5,13.7,13.8,13.9,14.3,14.6,14.5,14.8,14.9,15.0,14.9,15.2,15.5,15.3,15.6,15.9,16.1,15.9,16.1,16.5,16.7,16.4,16.9,16.7,16.8,17.1,17.2,17.0,17.5,17.9,17.9,18.0,18.1,18.0,18.1,18.2,18.2,18.3,18.3,18.4,18.3,18.5,18.4,18.5,18.6,18.5,18.6,18.6,18.6,18.7,18.6,18.7,18.8,18.8,18.7,18.9,18.9,18.8,19.0];

// ---------- (l) QR-IWS-S ----------
const qrIWS_f1 = [4.0,3.9,4.5,5.1,5.5,5.4,5.1,5.8,6.0,5.9,5.9,5.9,6.1,6.2,5.8,6.1,6.1,6.0,6.2,6.1,6.3,6.3,6.4,6.3,6.4,6.8,6.6,6.6,6.5,6.9,6.8,6.9,6.8,7.0,6.8,7.2,7.0,7.2,7.6,7.4,7.6,7.7,7.8,7.9,8.0,8.1,8.2,8.3,8.4,8.5,8.5,8.6,8.7,8.8,8.9,8.9,9.0,9.1,9.2,9.3,9.4,9.5,9.6,9.7,9.8,9.8,9.9,10.0,10.0,10.1,10.2,10.3,10.3,10.4,10.5,10.5,10.6,10.6,10.7,10.7,10.8,10.8,10.8,10.8,10.9,10.9,10.9,10.9,10.9,11.0,10.9,10.9,11.0,11.0,10.9,11.0,11.0,10.9,11.0,11.0,10.9];
const qrIWS_f2 = [4.3,4.7,5.4,6.0,6.4,6.3,5.7,6.6,6.9,6.9,6.9,6.8,7.1,7.2,6.8,7.1,7.1,7.0,7.3,7.2,7.5,7.5,7.6,7.5,7.6,8.1,7.9,7.9,7.8,8.3,8.2,8.3,8.1,8.4,8.0,8.6,8.4,8.6,9.1,8.8,9.0,9.2,9.2,9.4,9.5,9.6,9.6,9.8,9.9,10.0,10.1,10.2,10.3,10.4,10.5,10.4,10.6,10.7,10.8,10.9,11.0,11.1,11.3,11.4,11.5,11.5,11.6,11.7,11.8,11.9,12.0,12.1,12.2,12.2,12.4,12.5,12.4,12.6,12.7,12.8,12.7,12.8,12.7,12.8,12.9,12.9,13.0,12.9,13.0,13.0,13.0,13.0,13.0,13.1,13.0,13.1,13.0,13.0,13.0,12.9,12.9];
const qrIWS_f3 = [4.5,5.1,5.9,6.6,7.0,6.9,6.2,7.3,7.6,7.6,7.6,7.5,7.9,7.9,7.5,7.9,7.8,7.7,8.0,7.9,8.2,8.3,8.4,8.2,8.3,8.9,8.7,8.6,8.5,9.1,9.0,9.1,8.9,9.2,8.8,9.5,9.3,9.4,10.0,9.7,9.9,10.2,10.2,10.4,10.5,10.7,10.7,10.9,11.0,11.0,11.1,11.2,11.3,11.4,11.6,11.4,11.7,11.8,11.9,12.0,12.1,12.2,12.4,12.5,12.7,12.7,12.8,12.9,13.0,13.0,13.2,13.3,13.4,13.5,13.6,13.7,13.7,13.8,13.8,13.9,13.9,14.0,14.0,14.0,14.1,14.1,14.1,14.2,14.2,14.2,14.2,14.2,14.3,14.3,14.3,14.3,14.3,14.3,14.4,14.3,14.3];
const qrIWS_f4 = [4.7,5.5,6.4,7.1,7.5,7.4,6.6,7.8,8.1,8.1,8.1,8.0,8.4,8.5,8.0,8.4,8.3,8.2,8.6,8.5,8.8,8.9,9.0,8.8,8.9,9.5,9.3,9.2,9.1,9.7,9.6,9.8,9.5,9.9,9.4,10.2,9.9,10.1,10.7,10.3,10.6,10.9,10.9,11.1,11.3,11.4,11.4,11.6,11.8,11.8,11.9,12.0,12.1,12.2,12.4,12.2,12.5,12.6,12.7,12.9,13.0,13.1,13.3,13.4,13.7,13.6,13.8,13.9,14.0,14.0,14.2,14.3,14.4,14.5,14.6,14.6,14.7,14.8,14.8,14.9,14.9,15.0,15.0,15.0,15.1,15.0,15.1,15.1,15.1,15.1,15.1,15.1,15.2,15.2,15.2,15.2,15.2,15.2,15.3,15.2,15.2];
const qrIWS_f5 = [4.9,5.8,6.8,7.5,7.9,7.8,6.9,8.2,8.6,8.5,8.5,8.5,8.9,9.0,8.5,8.8,8.8,8.7,9.1,9.0,9.3,9.4,9.6,9.4,9.5,10.1,9.9,9.8,9.7,10.3,10.2,10.4,10.1,10.5,10.0,10.8,10.5,10.7,11.4,10.9,11.2,11.5,11.5,11.7,11.9,12.0,12.0,12.3,12.4,12.4,12.5,12.6,12.7,12.9,13.1,12.9,13.2,13.3,13.4,13.6,13.8,13.9,14.0,14.2,14.5,14.4,14.6,14.7,14.8,14.8,15.0,15.1,15.2,15.3,15.4,15.4,15.5,15.6,15.6,15.7,15.7,15.8,15.8,15.8,15.9,15.8,15.9,15.9,15.9,15.9,15.9,15.9,16.0,16.0,16.0,16.0,16.0,16.0,16.1,16.0,16.0];
const qrIWS_f6 = [5.1,6.1,7.1,7.8,8.2,8.1,7.2,8.5,8.9,8.8,8.8,8.8,9.2,9.3,8.8,9.2,9.1,9.0,9.4,9.3,9.6,9.8,9.9,9.7,9.8,10.5,10.3,10.2,10.1,10.7,10.6,10.8,10.5,10.9,10.4,11.2,10.9,11.1,11.8,11.3,11.6,12.0,12.0,12.2,12.4,12.5,12.5,12.8,13.0,13.0,13.1,13.2,13.3,13.5,13.7,13.5,13.8,13.9,14.0,14.3,14.5,14.6,14.7,14.9,15.1,15.0,15.2,15.3,15.4,15.4,15.6,15.7,15.8,15.9,16.0,16.0,16.1,16.2,16.3,16.3,16.3,16.4,16.4,16.4,16.5,16.4,16.5,16.5,16.5,16.5,16.5,16.5,16.6,16.6,16.6,16.6,16.6,16.6,16.7,16.6,16.6];
const qrIWS_f7 = [5.3,6.3,7.3,8.1,8.5,8.4,7.5,8.8,9.2,9.1,9.1,9.1,9.5,9.6,9.1,9.5,9.4,9.3,9.7,9.6,9.9,10.1,10.2,10.0,10.1,10.8,10.6,10.5,10.4,11.0,10.9,11.1,10.8,11.2,10.7,11.6,11.3,11.5,12.2,11.7,12.0,12.4,12.4,12.6,12.8,13.0,13.0,13.3,13.5,13.5,13.6,13.7,13.8,14.0,14.2,14.0,14.3,14.4,14.5,14.8,15.0,15.1,15.2,15.4,15.7,15.6,15.8,15.9,16.1,16.1,16.3,16.4,16.5,16.6,16.8,16.8,16.9,17.0,17.1,17.1,17.1,17.2,17.2,17.2,17.3,17.2,17.3,17.3,17.3,17.3,17.3,17.3,17.3,17.4,17.3,17.3,17.3,17.3,17.4,17.3,17.3];
const qrIWS_f8 = [5.5,6.5,7.5,8.3,8.7,8.6,7.7,9.0,9.4,9.3,9.3,9.3,9.7,9.8,9.3,9.7,9.6,9.5,9.9,9.8,10.1,10.3,10.5,10.3,10.4,11.1,10.9,10.8,10.7,11.3,11.2,11.4,11.1,11.5,11.0,11.9,11.6,11.8,12.6,12.1,12.4,12.8,12.8,13.0,13.2,13.4,13.4,13.7,13.9,13.9,14.0,14.1,14.2,14.4,14.6,14.5,14.8,14.9,15.0,15.3,15.6,15.7,15.8,16.0,16.3,16.2,16.3,16.4,16.6,16.6,16.8,16.9,17.0,17.1,17.3,17.3,17.4,17.5,17.6,17.6,17.7,17.7,17.7,17.7,17.8,17.7,17.8,17.8,17.8,17.7,17.8,17.8,17.8,17.9,17.8,17.8,17.8,17.8,17.9,17.8,17.8];

// ---------- styles ----------
const C = ["#0072BD","#D95319","#EDB120","#7E2F8E","#77AC30","#4DBEEE","#A2142F"];
const epochColors = [C[0],C[1],C[2],C[3],C[4],C[5],C[6],C[0],C[1],C[2],C[3]];
const epochSymbols = ["circle","star","triangle","square","asterisk","asterisk","triangle","diamond2",null,"plus","triangle"];
const epochRotate = [0,0,180,0,0,0,90,0,0,0,-90];
const faultColors = [C[0],C[1],C[2],C[3],C[4],C[5],C[6],C[0],C[1]];

const FONT = '"Liberation Sans", Arial, Helvetica, sans-serif';
const page = document.getElementById("page");
const fmt = d => String(+(+d).toFixed(4));

function drawChart(c) {
  const mL = 40, mR = 6, mT = 20, mB = c.mB;
  const width = c.x1 - c.x0 + mL + mR;
  const height = c.yb - c.yt + mT + mB;
  const isFR = c.kind === "fr";
  const xs = isFR ? faultPercent : epochs;
  const marks = [
    Plot.gridX(c.xTicks, {stroke: "#dedede", strokeOpacity: 1, strokeWidth: 1}),
    Plot.gridY(c.yTicks, {stroke: "#dedede", strokeOpacity: 1, strokeWidth: 1}),
    Plot.frame({stroke: "#d6d6d6"}),
    Plot.ruleX([c.xDomain[0]], {stroke: "#2b2b2b", strokeWidth: 1.2}),
    Plot.ruleY([c.yDomain[0]], {stroke: "#2b2b2b", strokeWidth: 1.2}),
    Plot.axisX(c.xTicks, {tickSize: 0, tickPadding: c.xPad, tickFormat: fmt, label: null, fontSize: 6, fill: "#3a3a3a"}),
    Plot.axisY(c.yTicks, {tickSize: 0, tickPadding: 4, tickFormat: fmt, label: null, fontSize: 6, fill: "#3a3a3a"}),
    Plot.text([c.title], {text: d => d, frameAnchor: "top", dy: c.titleDy, fontWeight: "bold", fontSize: 8.2, fill: "#111"}),
    Plot.text([c.ylabel], {text: d => d, frameAnchor: "left", rotate: -90, dx: -c.ylabOff, fontSize: c.ylabSize, fill: "#3a3a3a"}),
    Plot.text([c.xlabel], {text: d => d, frameAnchor: "bottom", dy: c.xlabOff, fontSize: c.xlabSize, fill: "#3a3a3a"})
  ];
  c.series.forEach((vals, i) => {
    const data = xs.map((x, j) => ({x, y: vals[j]}));
    if (isFR) {
      marks.push(Plot.line(data, {x: "x", y: "y", stroke: epochColors[i], strokeWidth: 1.4,
        strokeDasharray: epochSymbols[i] === null ? "4,2,1,2" : null}));
      if (epochSymbols[i]) marks.push(Plot.dot(data, {x: "x", y: "y", symbol: epochSymbols[i], rotate: epochRotate[i],
        r: 2.2, stroke: epochColors[i], fill: "none", strokeWidth: 1.1}));
    } else {
      marks.push(Plot.line(data, {x: "x", y: "y", stroke: faultColors[i], strokeWidth: i === 0 ? 1.6 : 1.1}));
    }
  });
  const svg = Plot.plot({
    width, height, marginLeft: mL, marginRight: mR, marginTop: mT, marginBottom: mB,
    x: {domain: c.xDomain}, y: {domain: c.yDomain},
    style: {fontFamily: FONT, background: "transparent", overflow: "hidden"},
    marks
  });
  svg.style.left = (c.x0 - mL) + "px";
  svg.style.top = (c.yt - mT) + "px";
  page.appendChild(svg);

  // legend (MATLAB style box inside axes)
  const L = c.legend, names = isFR ? epochNames : faultNames;
  const n = names.length, pad = 1.5, rowH = (L.h - 2 * pad) / n;
  const lg = d3.create("svg").attr("width", L.w).attr("height", L.h)
    .style("left", L.x + "px").style("top", L.y + "px");
  lg.append("rect").attr("x", 0.6).attr("y", 0.6).attr("width", L.w - 1.2).attr("height", L.h - 1.2)
    .attr("fill", "#fff").attr("stroke", "#262626").attr("stroke-width", 1.2);
  names.forEach((name, i) => {
    const cy = pad + rowH * (i + 0.5);
    const col = isFR ? epochColors[i] : faultColors[i];
    const lx0 = 2.5, lx1 = isFR ? 20 : 21;
    lg.append("line").attr("x1", lx0).attr("x2", lx1).attr("y1", cy).attr("y2", cy)
      .attr("stroke", col).attr("stroke-width", isFR ? 1.5 : 1.6)
      .attr("stroke-dasharray", isFR && epochSymbols[i] === null ? "4,2,1,2" : null);
    if (isFR && epochSymbols[i]) {
      const symMap = {circle: d3.symbolCircle, star: d3.symbolStar, triangle: d3.symbolTriangle, square: d3.symbolSquare,
        asterisk: d3.symbolAsterisk, diamond2: d3.symbolDiamond2, plus: d3.symbolPlus};
      lg.append("path").attr("d", d3.symbol(symMap[epochSymbols[i]], 14)())
        .attr("transform", `translate(${(lx0 + lx1) / 2},${cy}) rotate(${epochRotate[i]})`)
        .attr("fill", "none").attr("stroke", col).attr("stroke-width", 1.1);
    }
    lg.append("text").attr("x", lx1 + 2).attr("y", cy).attr("dy", "0.35em")
      .attr("font-family", FONT).attr("font-size", L.fs).attr("fill", "#333").text(name);
  });
  page.appendChild(lg.node());
}

const titleDR = "Learning-standard-algorithm-fault-rate-average-distortion";
const titleQR = "Learning-standard-algorithm-fault-rate-average-quantization";
const titleED = "Learning-standard-algorithm-epochs-distortion-ratio";
const titleEQ = "Learning-standard-algorithm-epochs-quantization-ratio";

const charts = [
  {kind: "fr", x0: 32.5, x1: 294, yt: 15, yb: 223, mB: 22, xDomain: [0, 8], yDomain: [0, 255], xTicks: xTicksFR,
   yTicks: [0,50,100,150,200,250], title: titleDR, titleDy: -5, ylabel: "Average distortion", ylabOff: 17.5, ylabSize: 7.8,
   xlabel: "Fault percentage", xlabOff: 14, xlabSize: 7.4, xPad: 3,
   series: [dSWS_e0,dSWS_e10,dSWS_e20,dSWS_e30,dSWS_e40,dSWS_e50,dSWS_e60,dSWS_e70,dSWS_e80,dSWS_e90,dSWS_e100],
   legend: {x: 239, y: 23, w: 49, h: 70, fs: 5.3}},
  {kind: "fr", x0: 327, x1: 588, yt: 15, yb: 223, mB: 22, xDomain: [0, 8], yDomain: [0, 0.243], xTicks: xTicksFR,
   yTicks: [0,0.05,0.1,0.15,0.2], title: titleDR, titleDy: -5, ylabel: "Average distortion", ylabOff: 17, ylabSize: 7.8,
   xlabel: "Fault percentage", xlabOff: 14, xlabSize: 7.4, xPad: 3,
   series: [dOWS_e0,dOWS_e10,dOWS_e20,dOWS_e30,dOWS_e40,dOWS_e50,dOWS_e60,dOWS_e70,dOWS_e80,dOWS_e90,dOWS_e100],
   legend: {x: 533, y: 21, w: 50, h: 71, fs: 5.3}},
  {kind: "fr", x0: 623, x1: 884, yt: 15, yb: 223, mB: 22, xDomain: [0, 8], yDomain: [0, 0.249], xTicks: xTicksFR,
   yTicks: [0,0.05,0.1,0.15,0.2], title: titleDR, titleDy: -5, ylabel: "Average distortion", ylabOff: 20, ylabSize: 7.8,
   xlabel: "Fault percentage", xlabOff: 14, xlabSize: 7.4, xPad: 3,
   series: [dIWS_e0,dIWS_e10,dIWS_e20,dIWS_e30,dIWS_e40,dIWS_e50,dIWS_e60,dIWS_e70,dIWS_e80,dIWS_e90,dIWS_e100],
   legend: {x: 829, y: 22, w: 49, h: 71, fs: 5.3}},
  {kind: "fr", x0: 29, x1: 291, yt: 311, yb: 517, mB: 20, xDomain: [0, 8], yDomain: [0, 7.7], xTicks: xTicksFR,
   yTicks: [0,1,2,3,4,5,6,7], title: titleQR, titleDy: -6.5, ylabel: "Quantization", ylabOff: 12, ylabSize: 7.8,
   xlabel: "Fault percentage", xlabOff: 13.5, xlabSize: 7.2, xPad: 3,
   series: [qSWS_e0,qSWS_e10,qSWS_e20,qSWS_e30,qSWS_e40,qSWS_e50,qSWS_e60,qSWS_e70,qSWS_e80,qSWS_e90,qSWS_e100],
   legend: {x: 235, y: 317, w: 51, h: 70, fs: 5.3}},
  {kind: "fr", x0: 324, x1: 586, yt: 311, yb: 517, mB: 20, xDomain: [0, 8], yDomain: [0, 0.4], xTicks: xTicksFR,
   yTicks: [0,0.05,0.1,0.15,0.2,0.25,0.3,0.35,0.4], title: titleQR, titleDy: -6.5, ylabel: "Quantization", ylabOff: 19, ylabSize: 7.8,
   xlabel: "Fault percentage", xlabOff: 13.5, xlabSize: 7.2, xPad: 3,
   series: [qOWS_e0,qOWS_e10,qOWS_e20,qOWS_e30,qOWS_e40,qOWS_e50,qOWS_e60,qOWS_e70,qOWS_e80,qOWS_e90,qOWS_e100],
   legend: {x: 530, y: 317, w: 51, h: 70, fs: 5.3}},
  {kind: "fr", x0: 619, x1: 882, yt: 311, yb: 517, mB: 20, xDomain: [0, 8], yDomain: [0, 0.4], xTicks: xTicksFR,
   yTicks: [0,0.05,0.1,0.15,0.2,0.25,0.3,0.35,0.4], title: titleQR, titleDy: -6.5, ylabel: "Quantization", ylabOff: 20, ylabSize: 7.8,
   xlabel: "Fault percentage", xlabOff: 13.5, xlabSize: 7.2, xPad: 3,
   series: [qIWS_e0,qIWS_e10,qIWS_e20,qIWS_e30,qIWS_e40,qIWS_e50,qIWS_e60,qIWS_e70,qIWS_e80,qIWS_e90,qIWS_e100],
   legend: {x: 825, y: 317, w: 51, h: 70, fs: 5.3}},
  {kind: "ep", x0: 31, x1: 293, yt: 591, yb: 798, mB: 24, xDomain: [0, 100], yDomain: [1, 2710], xTicks: xTicksEp,
   yTicks: [500,1000,1500,2000,2500], title: titleED, titleDy: -6.7, ylabel: "Distortion ratio", ylabOff: 22, ylabSize: 8.4,
   xlabel: "Epochs", xlabOff: 16, xlabSize: 10, xPad: 2.5,
   series: [faultRate0,drSWS_f1,drSWS_f2,drSWS_f3,drSWS_f4,drSWS_f5,drSWS_f6,drSWS_f7,drSWS_f8],
   legend: {x: 236, y: 598, w: 60, h: 57, fs: 5}},
  {kind: "ep", x0: 328, x1: 589, yt: 592, yb: 798, mB: 24, xDomain: [0, 100], yDomain: [1, 1.45], xTicks: xTicksEp,
   yTicks: [1,1.05,1.1,1.15,1.2,1.25,1.3,1.35,1.4,1.45], title: titleED, titleDy: -6.7, ylabel: "Distortion ratio", ylabOff: 20, ylabSize: 8.4,
   xlabel: "Epochs", xlabOff: 16, xlabSize: 10, xPad: 2.5,
   series: [faultRate0,drOWS_f1,drOWS_f2,drOWS_f3,drOWS_f4,drOWS_f5,drOWS_f6,drOWS_f7,drOWS_f8],
   legend: {x: 532, y: 597, w: 51, h: 58, fs: 5}},
  {kind: "ep", x0: 626, x1: 880, yt: 591, yb: 798, mB: 24, xDomain: [0, 100], yDomain: [1, 1.45], xTicks: xTicksEp,
   yTicks: [1,1.05,1.1,1.15,1.2,1.25,1.3,1.35,1.4,1.45], title: titleED, titleDy: -6.7, ylabel: "Distortion ratio", ylabOff: 21, ylabSize: 8.4,
   xlabel: "Epochs", xlabOff: 16, xlabSize: 10, xPad: 2.5,
   series: [faultRate0,drIWS_f1,drIWS_f2,drIWS_f3,drIWS_f4,drIWS_f5,drIWS_f6,drIWS_f7,drIWS_f8],
   legend: {x: 827, y: 597, w: 52, h: 58, fs: 5}},
  {kind: "ep", x0: 33, x1: 296, yt: 887, yb: 1093, mB: 24, xDomain: [0, 100], yDomain: [1, 490], xTicks: xTicksEp,
   yTicks: [50,100,150,200,250,300,350,400,450], title: titleEQ, titleDy: -7, ylabel: "Quantization ratio", ylabOff: 18, ylabSize: 7.6,
   xlabel: "Epochs", xlabOff: 15, xlabSize: 10, xPad: 1.5,
   series: [faultRate0,qrSWS_f1,qrSWS_f2,qrSWS_f3,qrSWS_f4,qrSWS_f5,qrSWS_f6,qrSWS_f7,qrSWS_f8],
   legend: {x: 238, y: 893, w: 58, h: 57, fs: 5}},
  {kind: "ep", x0: 327, x1: 589, yt: 887, yb: 1093, mB: 24, xDomain: [0, 100], yDomain: [1, 19], xTicks: xTicksEp,
   yTicks: [2,4,6,8,10,12,14,16,18], title: titleEQ, titleDy: -7, ylabel: "Quantization ratio", ylabOff: 15, ylabSize: 7.6,
   xlabel: "Epochs", xlabOff: 15, xlabSize: 10, xPad: 1.5,
   series: [faultRate0,qrOWS_f1,qrOWS_f2,qrOWS_f3,qrOWS_f4,qrOWS_f5,qrOWS_f6,qrOWS_f7,qrOWS_f8],
   legend: {x: 531, y: 893, w: 52, h: 57, fs: 5}},
  {kind: "ep", x0: 619, x1: 879, yt: 887, yb: 1093, mB: 24, xDomain: [0, 100], yDomain: [1, 19], xTicks: xTicksEp,
   yTicks: [2,4,6,8,10,12,14,16,18], title: titleEQ, titleDy: -7, ylabel: "Quantization ratio", ylabOff: 14, ylabSize: 7.6,
   xlabel: "Epochs", xlabOff: 15, xlabSize: 10, xPad: 1.5,
   series: [faultRate0,qrIWS_f1,qrIWS_f2,qrIWS_f3,qrIWS_f4,qrIWS_f5,qrIWS_f6,qrIWS_f7,qrIWS_f8],
   legend: {x: 820, y: 893, w: 59, h: 57, fs: 5}}
];
charts.forEach(drawChart);

// ---------- sub-figure captions ----------
const captions = ["(a) D-FR-SWS-S","(b) D-FR-OWS-S","(c) D-FR-IWS-S","(d) Q-FR-SWS-S","(e) Q-FR-OWS-S","(f) Q-FR-IWS-S",
  "(g) DR-SWS-S","(h) DR-OWS-S","(i) DR-IWS-S","(j) QR-SWS-S","(k) QR-OWS-S","(l) QR-IWS-S"];
const capCols = [133, 449, 743];
const capRows = [261, 547, 830, 1131];
captions.forEach((t, i) => {
  const d = document.createElement("div");
  d.className = "caption";
  d.textContent = t;
  d.style.left = (capCols[i % 3] - 150) + "px";
  d.style.top = (capRows[Math.floor(i / 3)] - 12) + "px";
  page.appendChild(d);
});
</script></body></html>
